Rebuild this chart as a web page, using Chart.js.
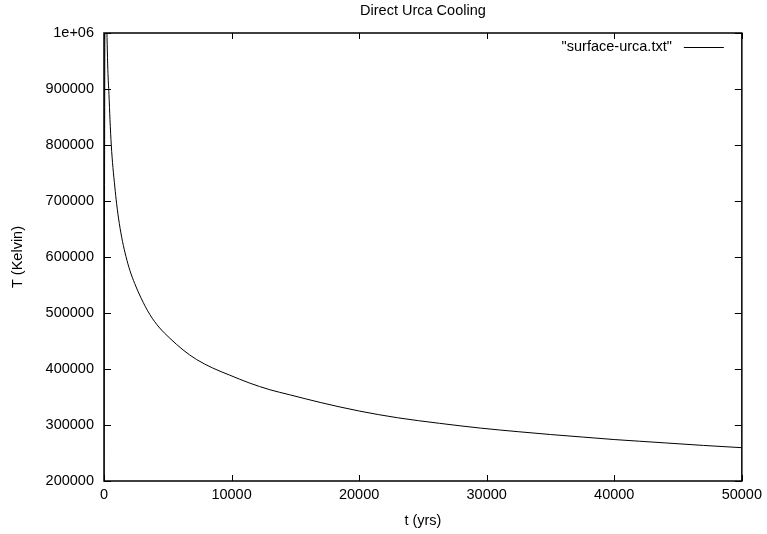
<!DOCTYPE html>
<html>
<head>
    <title>Direct Urca Cooling</title>
    <script src="https://cdn.jsdelivr.net/npm/chart.js"></script>
    <style>
        body { margin:0; background:#fff; }
        #chart { display:block; }
    </style>
</head>
<body>
<canvas id="chart" width="767" height="534"></canvas>
<script>
// values (t in years, T in Kelvin)
const years = [0, 100, 150, 200, 250, 300, 390, 470, 570, 700, 850, 990, 1200, 1450, 1720, 2030, 2400, 2900, 3600, 4300, 5160, 6200, 7250, 8500, 9860, 11400, 13000, 14550, 17000, 20000, 23000, 26300, 29500, 32500, 35000, 37500, 40000, 42000, 44000, 47000, 50000];
const kelvin = [210000, 1200000, 1090000, 1030000, 980000, 935000, 890000, 845000, 800000, 760000, 725000, 695000, 660000, 628000, 601000, 576000, 553000, 527000, 497000, 475000, 455000, 434000, 417000, 402000, 389000, 375000, 363000, 354000, 340000, 325000, 313000, 303000, 294500, 288000, 283000, 278500, 274000, 271000, 268000, 263500, 259500];
const xTicks = [0, 10000, 20000, 30000, 40000, 50000];
const yTicks = [200000, 300000, 400000, 500000, 600000, 700000, 800000, 900000, 1000000];
const yTickLabels = ['200000', '300000', '400000', '500000', '600000', '700000', '800000', '900000', '1e+06'];
const seriesName = '"surface-urca.txt"';
const titleText = 'Direct Urca Cooling';

const FONT = '"Liberation Sans", Arial, Helvetica, sans-serif';
Chart.defaults.font.family = FONT;
Chart.defaults.font.size = 14.5;
Chart.defaults.color = '#000';

// gnuplot style frame: box, inward ticks on all sides, title, key at top right
const frame = {
  id: 'frame',
  afterDatasetsDraw(chart) {
    const ctx = chart.ctx, a = chart.chartArea;
    const xs = chart.scales.x, ys = chart.scales.y;
    ctx.save();
    ctx.strokeStyle = '#000';
    ctx.lineWidth = 1;
    ctx.beginPath();
    xTicks.forEach(v => {
      const px = Math.round(xs.getPixelForValue(v)) + 0.5;
      ctx.moveTo(px, a.bottom); ctx.lineTo(px, a.bottom - 6);
      ctx.moveTo(px, a.top); ctx.lineTo(px, a.top + 6);
    });
    yTicks.forEach(v => {
      const py = Math.round(ys.getPixelForValue(v)) + 0.5;
      ctx.moveTo(a.left, py); ctx.lineTo(a.left + 7, py);
      ctx.moveTo(a.right, py); ctx.lineTo(a.right - 7, py);
    });
    ctx.stroke();
    ctx.lineWidth = 1.5;
    ctx.strokeRect(a.left, a.top, a.right - a.left, a.bottom - a.top);

    ctx.font = '14.5px ' + FONT;
    ctx.fillStyle = '#000';
    ctx.textBaseline = 'middle';
    ctx.textAlign = 'center';
    ctx.fillText(titleText, (a.left + a.right) / 2, 11);

    ctx.textAlign = 'right';
    ctx.fillText(seriesName, a.right - 70, a.top + 14);
    ctx.lineWidth = 1;
    ctx.beginPath();
    ctx.moveTo(a.right - 58, a.top + 14.5);
    ctx.lineTo(a.right - 18, a.top + 14.5);
    ctx.stroke();
    ctx.restore();
  }
};

new Chart(document.getElementById('chart'), {
  type: 'line',
  data: {
    datasets: [{
      label: seriesName,
      data: years.map((t, i) => ({x: t, y: kelvin[i]})),
      borderColor: '#000',
      borderWidth: 1,
      pointRadius: 0,
      cubicInterpolationMode: 'monotone',
      fill: false,
      clip: 0
    }]
  },
  options: {
    responsive: false,
    animation: false,
    layout: { padding: { left: 0, right: 24, top: 33, bottom: 0 } },
    plugins: {
      legend: { display: false },
      tooltip: { enabled: false },
      title: { display: false }
    },
    scales: {
      x: {
        type: 'linear',
        min: 0, max: 50000,
        grid: { display: false, drawTicks: false },
        border: { display: false },
        afterBuildTicks: s => { s.ticks = xTicks.map(v => ({value: v})); },
        ticks: { padding: 5, maxRotation: 0, callback: v => String(v) },
        title: { display: true, text: 't (yrs)', padding: { top: 0, bottom: 4.6 } },
        afterFit: s => { s.height = 53; }
      },
      y: {
        type: 'linear',
        min: 200000, max: 1000000,
        grid: { display: false, drawTicks: false },
        border: { display: false },
        afterBuildTicks: s => { s.ticks = yTicks.map(v => ({value: v})); },
        ticks: { padding: 10, callback: v => yTickLabels[yTicks.indexOf(v)] },
        title: { display: true, text: 'T (Kelvin)', padding: { top: 9.6, bottom: 0 } },
        afterFit: s => { s.width = 104; }
      }
    }
  },
  plugins: [frame]
});
</script>
</body>
</html>
